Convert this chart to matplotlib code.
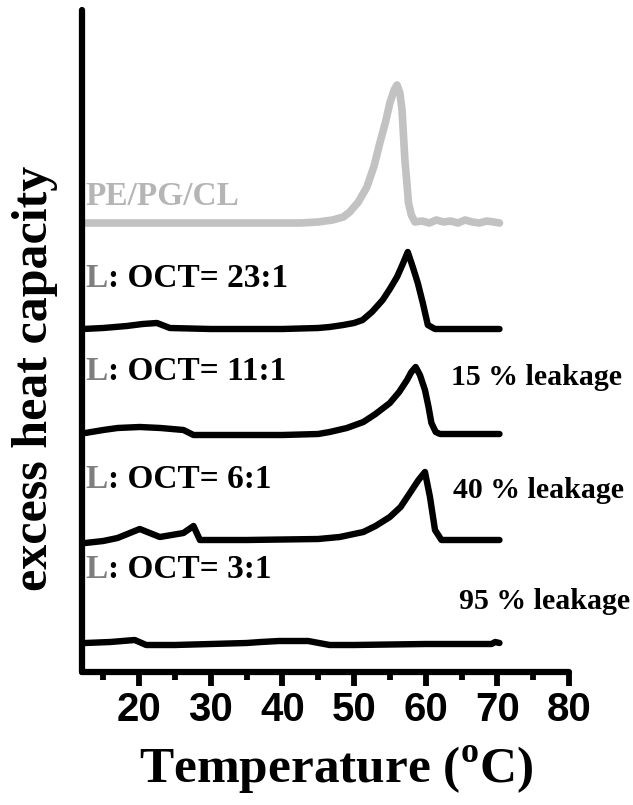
"""Stacked DSC thermograms: PE/PG/CL vesicles with increasing OCT content."""
import matplotlib
matplotlib.use("Agg")
import matplotlib.pyplot as plt
from matplotlib.ticker import MultipleLocator

plt.rcParams["mathtext.fontset"] = "custom"
plt.rcParams["mathtext.bf"] = "Liberation Serif:bold"
plt.rcParams["mathtext.rm"] = "Liberation Serif:bold"

SERIF = "Liberation Serif"
SANS = "Liberation Sans"
GRAY_LINE = "#c2c2c2"
GRAY_L = "#7f7f7f"

# temperatures (deg C) and excess heat capacity (arb. units, relative to each baseline)
t_pe = [12.5, 20, 30, 40, 42.5, 45, 47, 48.5, 49.4, 50.6, 51.8, 52.8, 53.6, 54.4, 55,
        55.6, 56, 56.4, 56.7, 57.1, 57.4, 57.6, 58, 58.5, 59.5, 60.5, 61.5, 62.5,
        63.5, 64.5, 65.5, 66.5, 67.5, 68.5, 69.5, 70.3]
cp_pe = [0, 0, 0, 0, 0, 1, 3, 6, 11, 21, 36, 57, 80, 101, 120, 133, 138, 130, 113,
         63, 38, 20, 8, 1, 2, 0, 3, 1, 2, 0, 3, 1, 0, 2, 1, 0]

t_23 = [12.2, 15, 18.3, 20.5, 22.5, 24.3, 30, 40, 45, 46.6, 48.5, 50, 51.2, 52.5,
        54, 55, 56, 56.8, 57.5, 58.2, 58.9, 59.6, 60.3, 61.3, 65, 70.3]
cp_23 = [0, 1, 3, 5, 6, 1, 0, 0, 1, 2, 4, 6, 9, 17, 29, 40, 52, 65, 77, 62, 46, 26,
         4, 0, 0, 0]

t_11 = [12.5, 15, 17, 20.1, 23, 26.2, 27.6, 30, 40, 45, 46.6, 49, 51.3, 53, 55,
        56.3, 57.4, 58, 58.6, 59.2, 59.9, 60.4, 60.8, 61.4, 62, 70.3]
cp_11 = [2, 5, 7, 8, 7, 5, 0, 0, 0, 1, 3, 7, 13, 21, 32, 43, 55, 63, 68, 60, 45, 28,
         12, 3, 1, 1]

t_6 = [12.5, 15, 17, 20.1, 21.5, 22.9, 26.2, 27.6, 28.5, 35, 45, 48, 51.3, 53, 55,
       56.5, 57.8, 59, 59.9, 60.6, 61.3, 62.2, 70.3]
cp_6 = [-3, -1, 2, 11, 7, 3, 7, 14, 0, 0, 1, 3, 8, 14, 23, 33, 47, 60, 68, 43, 10,
        0, 0]

t_3 = [12.5, 16, 19.4, 21, 25, 30, 35, 37, 39.5, 43.6, 46.6, 50, 60, 69.2, 69.7, 70.3]
cp_3 = [2, 3, 5, 0, 0, 1, 2, 3, 4, 4, 0, 0, 1, 1, 3, 2]

# vertical offsets of the stacked traces
offsets = [449, 343, 237, 132, 27]
traces = [(t_pe, cp_pe), (t_23, cp_23), (t_11, cp_11), (t_6, cp_6), (t_3, cp_3)]
colors = [GRAY_LINE, "black", "black", "black", "black"]
widths = [5.5, 4.6, 4.6, 4.6, 4.6]

ratios = ["23:1", "11:1", "6:1", "3:1"]
ratio_y = [385, 292, 184, 94]
leakage = ["15 % leakage", "40 % leakage", "95 % leakage"]
leak_x = [63.6, 63.8, 64.6]
leak_y = [287, 174, 63]

fig = plt.figure(figsize=(6.33, 8.05), dpi=100)
ax = fig.add_axes([81.7 / 633, 1 - 672 / 805, (569 - 81.7) / 633, 662 / 805])

for (t, cp), off, c, lw in zip(traces, offsets, colors, widths):
    ax.plot(t, [v + off for v in cp], color=c, lw=lw, solid_capstyle="round",
            solid_joinstyle="round")

ax.set_xlim(12, 80)
ax.set_ylim(0, 662)

for side in ("top", "right"):
    ax.spines[side].set_visible(False)
for side in ("left", "bottom"):
    ax.spines[side].set_linewidth(4.5)
    ax.spines[side].set_capstyle("round")

ax.xaxis.set_minor_locator(MultipleLocator(5))
ax.set_xticks([20, 30, 40, 50, 60, 70, 80])
ax.tick_params(axis="x", which="major", direction="out", length=10, width=4.2,
               pad=4, labelsize=29)
ax.tick_params(axis="x", which="minor", direction="out", length=6, width=4.2)
ax.tick_params(axis="y", left=False, labelleft=False, which="both")
for lab in ax.get_xticklabels():
    lab.set_fontfamily(SANS)
    lab.set_fontweight("bold")

# trace labels
ax.text(12.5, 467, "PE/PG/CL", color="#b5b5b5", fontsize=24, family=SERIF,
        fontweight="bold", va="baseline", ha="left")
for r, y in zip(ratios, ratio_y):
    tl = ax.text(12.5, y, "L", color=GRAY_L, fontsize=24, family=SERIF,
                 fontweight="bold", va="baseline", ha="left")
    ax.annotate(f": OCT= {r}", xy=(1, 0), xycoords=tl, color="black",
                fontsize=24, family=SERIF, fontweight="bold", va="bottom",
                ha="left")
for s, x, y in zip(leakage, leak_x, leak_y):
    ax.text(x, y, s, color="black", fontsize=21.5, family=SERIF,
            fontweight="bold", va="baseline", ha="left")

fig.text(35 / 633, 1 - 378 / 805, "excess heat capacity", rotation=90,
         fontsize=36, family=SERIF, fontweight="bold", ha="center", va="center")
fig.text(336 / 633, 1 - 770 / 805, r"Temperature ($^{\mathbf{o}}$C)",
         fontsize=37, family=SERIF, fontweight="bold", ha="center", va="center")

fig.savefig("out.png", dpi=100)
